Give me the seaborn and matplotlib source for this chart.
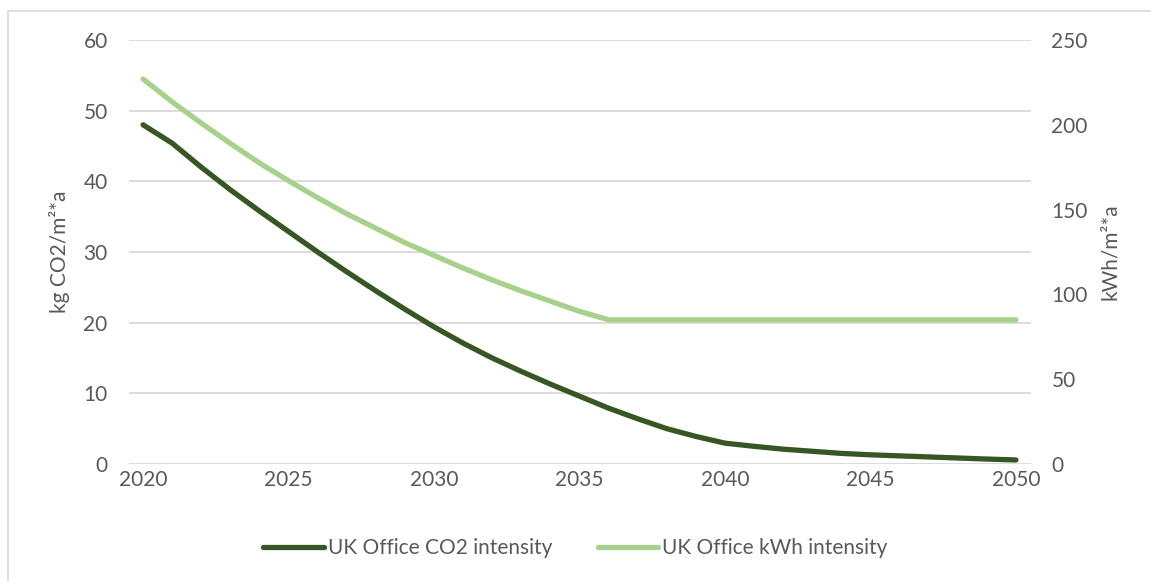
import matplotlib
matplotlib.use("Agg")
import matplotlib.pyplot as plt
from matplotlib.lines import Line2D
import seaborn as sns
import pandas as pd

years = list(range(2020, 2051))
co2_intensity = [48.0, 45.4, 42.0, 38.8, 35.8, 32.9, 30.0, 27.2, 24.5, 21.9,
                 19.4, 17.1, 15.0, 13.1, 11.3, 9.6, 7.9, 6.4, 5.0, 3.9,
                 2.95, 2.5, 2.1, 1.8, 1.5, 1.3, 1.15, 1.0, 0.85, 0.7, 0.57]
kwh_intensity = [227, 213.5, 201, 189, 177.5, 167, 157, 147.5, 139, 130.5,
                 123, 115.5, 108.5, 102, 96, 90, 85, 85, 85, 85,
                 85, 85, 85, 85, 85, 85, 85, 85, 85, 85, 85]
series_names = ["UK Office CO2 intensity", "UK Office kWh intensity"]
left_label = "kg CO2/m²*a"
right_label = "kWh/m²*a"
left_ticks = [0, 10, 20, 30, 40, 50, 60]
right_ticks = [0, 50, 100, 150, 200, 250]
x_ticks = [2020, 2025, 2030, 2035, 2040, 2045, 2050]

dark = "#375623"
light = "#A9D18E"
grey_text = "#595959"
grid = "#D9D9D9"

sns.set_theme(style="white")
plt.rcParams["font.family"] = ["Lato", "DejaVu Sans"]

df = pd.DataFrame({"year": years, "co2": co2_intensity, "kwh": kwh_intensity})

W, H = 1151, 581
fig = plt.figure(figsize=(W / 100, H / 100), dpi=100)
ax = fig.add_axes([128.5 / W, 1 - 464 / H, (1030.5 - 128.5) / W, (464 - 40) / H])
ax2 = ax.twinx()

lw = 3.8
sns.lineplot(data=df, x="year", y="co2", ax=ax, color=dark, linewidth=lw,
             solid_capstyle="round", solid_joinstyle="round", label=series_names[0], legend=False)
sns.lineplot(data=df, x="year", y="kwh", ax=ax2, color=light, linewidth=lw,
             solid_capstyle="round", solid_joinstyle="round", label=series_names[1], legend=False)

ax.set_xlim(2019.5, 2050.5)
ax.set_ylim(0, 60)
ax2.set_ylim(0, 250)
ax.set_xticks(x_ticks)
ax.set_yticks(left_ticks)
ax2.set_yticks(right_ticks)

fs = 15
ax.tick_params(axis="both", length=0, labelsize=fs, labelcolor=grey_text)
ax.tick_params(axis="y", pad=15)
ax.tick_params(axis="x", pad=4)
ax2.tick_params(axis="y", length=0, labelsize=fs, labelcolor=grey_text, pad=15)

ax.set_xlabel("")
ax.set_ylabel(left_label, fontsize=fs, color=grey_text, labelpad=10)
ax2.set_ylabel(right_label, fontsize=fs, color=grey_text, labelpad=9)

ax.yaxis.grid(True, color=grid, linewidth=1.3)
ax.xaxis.grid(False)
ax2.grid(False)
for a in (ax, ax2):
    for s in a.spines.values():
        s.set_visible(False)
ax.set_axisbelow(True)

handles = [Line2D([0], [0], color=dark, linewidth=lw, solid_capstyle="round"),
           Line2D([0], [0], color=light, linewidth=lw, solid_capstyle="round")]
fig.legend(handles, series_names, loc="center", bbox_to_anchor=(0.5, 1 - 548 / H),
           ncol=2, frameon=False, fontsize=fs, labelcolor=grey_text,
           handlelength=2.9, handletextpad=0.2, columnspacing=2.2)

fig.add_artist(Line2D([8 / W, 8 / W], [0, 1 - 11 / H], transform=fig.transFigure,
                      color=grid, linewidth=1.2))
fig.add_artist(Line2D([8 / W, 1], [1 - 11 / H, 1 - 11 / H], transform=fig.transFigure,
                      color=grid, linewidth=1.2))

fig.savefig("out.png", dpi=100, facecolor="white")
